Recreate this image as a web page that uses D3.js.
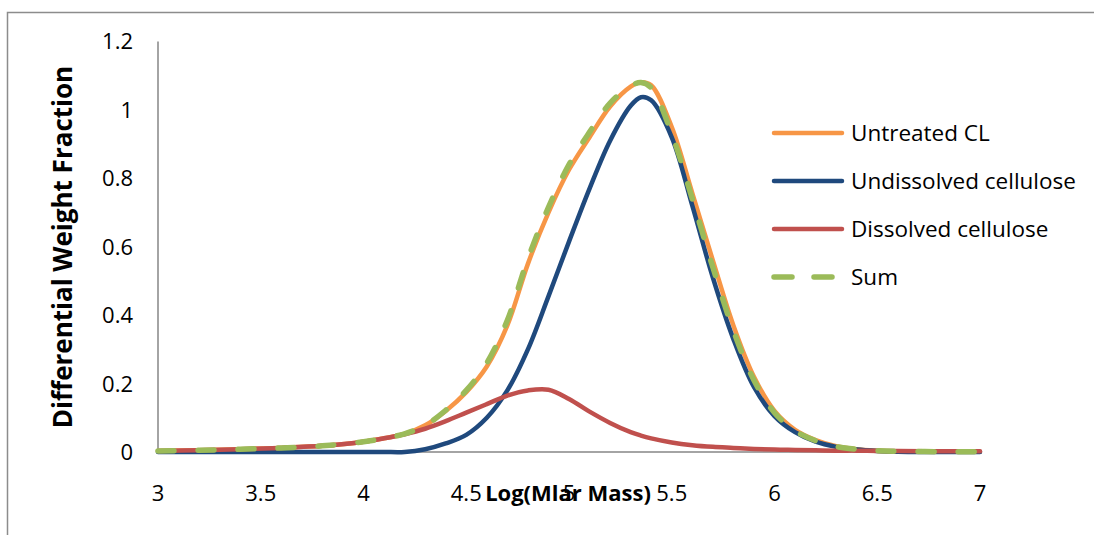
<!DOCTYPE html>
<html><head><meta charset="utf-8">
<script src="https://cdn.jsdelivr.net/npm/d3@7"></script>
<style>body{margin:0;background:#fff}svg{display:block}text{font-family:"Open Sans",sans-serif;fill:#000}</style>
</head><body><svg id="c" width="1094" height="535"></svg>
<script>
const xTicks = [3, 3.5, 4, 4.5, 5, 5.5, 6, 6.5, 7];
const yTicks = [0, 0.2, 0.4, 0.6, 0.8, 1, 1.2];
const seriesNames = ["Untreated CL", "Undissolved cellulose", "Dissolved cellulose", "Sum"];
const seriesColors = ["#F79646", "#1F497D", "#C0504D", "#9BBB59"];
const logM = [3.0,3.2,3.4,3.6,3.8,4.0,4.1,4.2,4.3,4.4,4.5,4.6,4.7,4.8,4.9,5.0,5.1,5.2,5.3,5.35,5.4,5.5,5.6,5.7,5.8,5.9,6.0,6.1,6.2,6.3,6.4,6.5,6.6,6.8,7.0];
const untreated = [0.003,0.005,0.008,0.012,0.018,0.03,0.04,0.053,0.078,0.12,0.175,0.25,0.37,0.55,0.70,0.825,0.92,1.01,1.068,1.081,1.072,0.95,0.757,0.56,0.37,0.22,0.12,0.065,0.035,0.017,0.008,0.004,0.002,0.001,0.001];
const undissolved = [0,0,0,0,0,0,0,0,0.008,0.025,0.05,0.1,0.18,0.3,0.455,0.615,0.77,0.91,1.012,1.037,1.028,0.92,0.72,0.51,0.33,0.19,0.105,0.058,0.03,0.015,0.007,0.003,0.001,0,0];
const dissolved = [0.003,0.005,0.008,0.012,0.018,0.03,0.04,0.052,0.068,0.09,0.115,0.14,0.165,0.18,0.182,0.155,0.118,0.085,0.058,0.048,0.04,0.028,0.02,0.015,0.012,0.009,0.007,0.006,0.005,0.004,0.004,0.003,0.003,0.002,0.002];
const sum = [0.003,0.005,0.008,0.012,0.018,0.03,0.04,0.053,0.078,0.122,0.18,0.26,0.385,0.565,0.715,0.84,0.935,1.02,1.07,1.08,1.065,0.93,0.74,0.54,0.355,0.21,0.115,0.062,0.033,0.016,0.008,0.004,0.002,0.001,0.001];
const allSeries = [untreated, undissolved, dissolved, sum];

const svg = d3.select("#c");
svg.append("rect").attr("x",7.5).attr("y",12.5).attr("width",1100).attr("height",540)
  .attr("fill","none").attr("stroke","#8c8c8c").attr("stroke-width",1.5);

const x = d3.scaleLinear().domain([3,7]).range([158,980]);
const y = d3.scaleLinear().domain([0,1.2]).range([452,41.5]);

svg.append("line").attr("x1",x(3)).attr("x2",x(3)).attr("y1",y(1.2)).attr("y2",y(0))
  .attr("stroke","#868686").attr("stroke-width",1.5);
svg.append("line").attr("x1",x(3)).attr("x2",x(7)).attr("y1",y(0)).attr("y2",y(0))
  .attr("stroke","#868686").attr("stroke-width",1.5);

svg.append("g").selectAll("text").data(yTicks).join("text")
  .attr("x",133).attr("y",d=>y(d)).attr("dy","0.36em").attr("text-anchor","end")
  .attr("font-size",22).text(d=>d);
svg.append("g").selectAll("text").data(xTicks).join("text")
  .attr("x",d=>x(d)).attr("y",501).attr("text-anchor","middle")
  .attr("font-size",22).text(d=>d);

svg.append("text").attr("transform","translate(72,247) rotate(-90)")
  .attr("text-anchor","middle").attr("font-size",26).attr("font-weight","bold")
  .text("Differential Weight Fraction");
svg.append("text").attr("x",568).attr("y",501).attr("text-anchor","middle")
  .attr("font-size",22).attr("font-weight","bold").text("Log(Mlar Mass)");

const line = d3.line().x(d=>x(d[0])).y(d=>y(Math.max(0,d[1]))).curve(d3.curveCatmullRom.alpha(0.5));
allSeries.forEach((vals,i)=>{
  const p = svg.append("path").datum(logM.map((m,j)=>[m,vals[j]]))
    .attr("d",line).attr("fill","none").attr("stroke",seriesColors[i])
    .attr("stroke-width",i===3?5.5:4.5).attr("stroke-linecap","round").attr("stroke-linejoin","round");
  if(i===3) p.attr("stroke-dasharray","16,24");
});

const lg = svg.append("g");
seriesNames.forEach((n,i)=>{
  const yy = 133 + i*48;
  const l = lg.append("line").attr("x1",774).attr("x2",842).attr("y1",yy).attr("y2",yy)
    .attr("stroke",seriesColors[i]).attr("stroke-width",i===3?5.5:4.5).attr("stroke-linecap","round");
  if(i===3) l.attr("stroke-dasharray","18,22");
  lg.append("text").attr("x",851).attr("y",yy).attr("dy","0.36em").attr("font-size",22.5).text(n);
});
</script></body></html>
